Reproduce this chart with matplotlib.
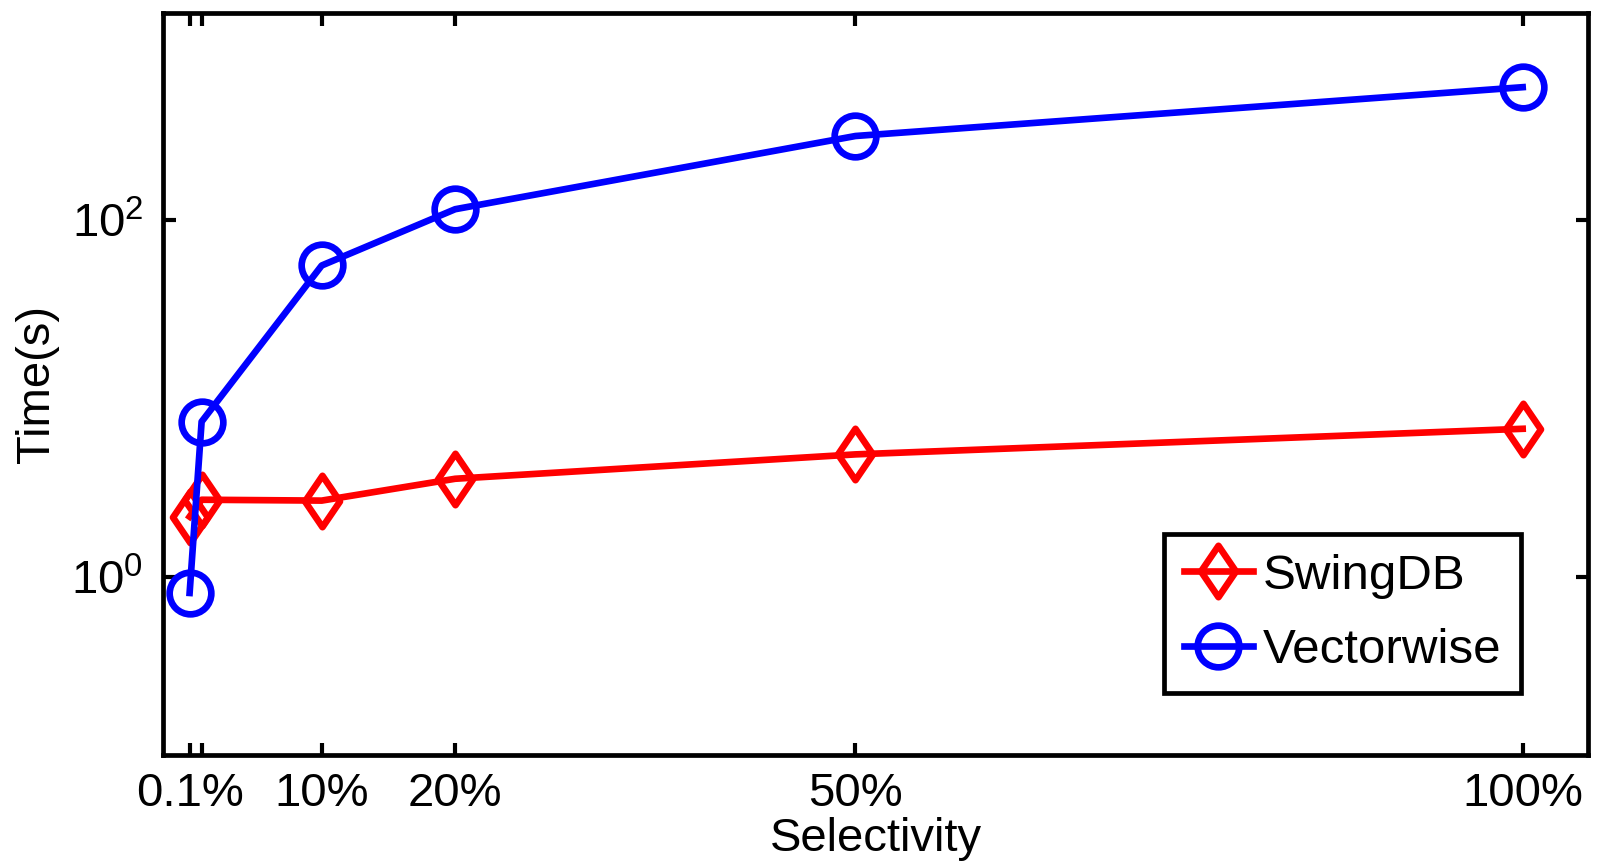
import matplotlib
matplotlib.use("Agg")
import matplotlib.pyplot as plt
from matplotlib.path import Path

plt.rcParams['font.family'] = ['Liberation Sans', 'DejaVu Sans']
plt.rcParams['mathtext.fontset'] = 'custom'
plt.rcParams['mathtext.rm'] = 'Liberation Sans'
plt.rcParams['mathtext.it'] = 'Liberation Sans'

# Selectivity (%) and query times (s)
selectivity = [0.1, 1, 10, 20, 50, 100]
swingdb = [2.17, 2.70, 2.67, 3.54, 4.85, 6.75]
vectorwise = [0.81, 7.4, 55.6, 115, 296, 556]

xtick_values = [0.1, 1, 10, 20, 50, 100]
xtick_labels = ['0.1%', '', '10%', '20%', '50%', '100%']
ytick_values = [1, 100]
ytick_labels = [r'$\mathregular{10^{0}}$', r'$\mathregular{10^{2}}$']

FS = 34

# tall MATLAB-style diamond
diamond = Path([(0, 1), (0.68, 0), (0, -1), (-0.68, 0), (0, 1)],
               [Path.MOVETO, Path.LINETO, Path.LINETO, Path.LINETO, Path.CLOSEPOLY])

fig = plt.figure(figsize=(16.02, 8.64), dpi=100)
ax = fig.add_axes([0.1017, 0.1262, 0.8896, 0.8588])

ax.plot(selectivity, swingdb, color='#ff0000', lw=4.8, marker=diamond,
        markersize=37, markerfacecolor='none', markeredgewidth=4.8,
        label='SwingDB')
ax.plot(selectivity, vectorwise, color='#0000ff', lw=4.8, marker='o',
        markersize=30, markerfacecolor='none', markeredgewidth=4.8,
        label='Vectorwise')

ax.set_yscale('log')
ax.set_xlim(-1.9, 104.9)
ax.set_ylim(0.1, 1450)

ax.set_xticks(xtick_values)
ax.set_xticklabels(xtick_labels)
ax.set_yticks(ytick_values)
ax.set_yticklabels(ytick_labels)
ax.yaxis.set_minor_locator(matplotlib.ticker.NullLocator())

ax.tick_params(axis='both', which='major', direction='in', length=9, width=3,
               top=True, right=True, labelsize=FS, colors='black')
ax.tick_params(axis='x', pad=12)
ax.tick_params(axis='y', pad=14)
for s in ax.spines.values():
    s.set_linewidth(3.4)

ax.set_xlabel('Selectivity', fontsize=FS, labelpad=1)
ax.set_ylabel('Time(s)', fontsize=FS, labelpad=9)

leg = ax.legend(loc='lower right', bbox_to_anchor=(0.953, 0.0836), fontsize=35.5,
                fancybox=False, framealpha=1, edgecolor='black',
                handlelength=1.4, handletextpad=0.2, borderpad=0.4,
                labelspacing=0.6, borderaxespad=0)
leg.get_frame().set_linewidth(3.4)

fig.savefig('out.png', dpi=100)
